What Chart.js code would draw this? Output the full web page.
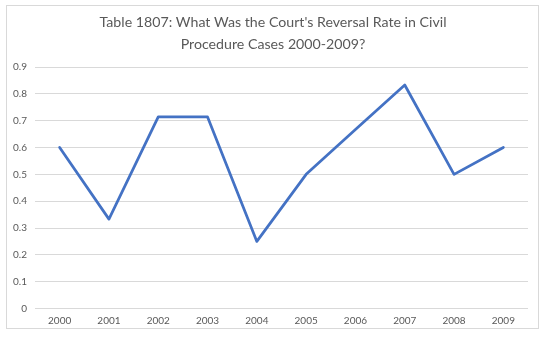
<!DOCTYPE html>
<html>
<head>
<meta charset="utf-8">
<script src="https://cdn.jsdelivr.net/npm/chart.js@4"></script>
<style>
  html, body { margin: 0; padding: 0; background: #fff; }
  #wrap { width: 550px; height: 342px; position: relative; }
</style>
</head>
<body>
<div id="wrap"><canvas id="chart" width="550" height="342"></canvas></div>
<script>
  // Data
  const years = ['2000', '2001', '2002', '2003', '2004', '2005', '2006', '2007', '2008', '2009'];
  const reversalRate = [0.6, 0.333, 0.714, 0.714, 0.25, 0.5, 0.667, 0.833, 0.5, 0.6];
  const titleLines = ["Table 1807: What Was the Court's Reversal Rate in Civil", 'Procedure Cases 2000-2009?'];

  const textGray = '#595959';
  const gridGray = '#d9d9d9';

  // light frame round the chart + the two-line title (Excel centres it a bit right of the canvas middle)
  const framePlugin = {
    id: 'frame',
    beforeDraw(chart) {
      const c = chart.ctx;
      c.save();
      c.fillStyle = '#fff';
      c.fillRect(0, 0, chart.width, chart.height);
      c.strokeStyle = gridGray;
      c.lineWidth = 1;
      c.strokeRect(6.5, 5.5, 532, 323);
      c.restore();
    },
    afterDraw(chart) {
      const c = chart.ctx;
      c.save();
      c.fillStyle = textGray;
      c.font = '14.2px Lato';
      c.textAlign = 'center';
      c.textBaseline = 'middle';
      titleLines.forEach((line, i) => c.fillText(line, 273, 22.5 + i * 21.5));
      c.restore();
    }
  };

  new Chart(document.getElementById('chart'), {
    type: 'line',
    data: {
      labels: years,
      datasets: [{
        data: reversalRate,
        borderColor: '#4472C4',
        borderWidth: 2.75,
        pointRadius: 0,
        tension: 0,
        borderJoinStyle: 'round',
        borderCapStyle: 'round',
        fill: false
      }]
    },
    options: {
      responsive: false,
      animation: false,
      layout: { padding: { top: 67, left: 0, right: 22, bottom: 9.5 } },
      plugins: {
        legend: { display: false },
        tooltip: { enabled: false },
        title: { display: false }
      },
      scales: {
        x: {
          offset: true,
          grid: { display: false, drawTicks: false },
          border: { display: false },
          ticks: {
            color: textGray,
            font: { family: 'Lato', size: 10 },
            padding: 6,
            maxRotation: 0
          }
        },
        y: {
          min: 0,
          max: 0.9,
          afterFit(scale) { scale.width = 35; },
          grid: { color: gridGray, lineWidth: 1, drawTicks: false },
          border: { display: false },
          ticks: {
            stepSize: 0.1,
            color: textGray,
            font: { family: 'Lato', size: 10 },
            padding: 8,
            callback: (v) => String(Math.round(v * 10) / 10)
          }
        }
      }
    },
    plugins: [framePlugin]
  });
</script>
</body>
</html>
